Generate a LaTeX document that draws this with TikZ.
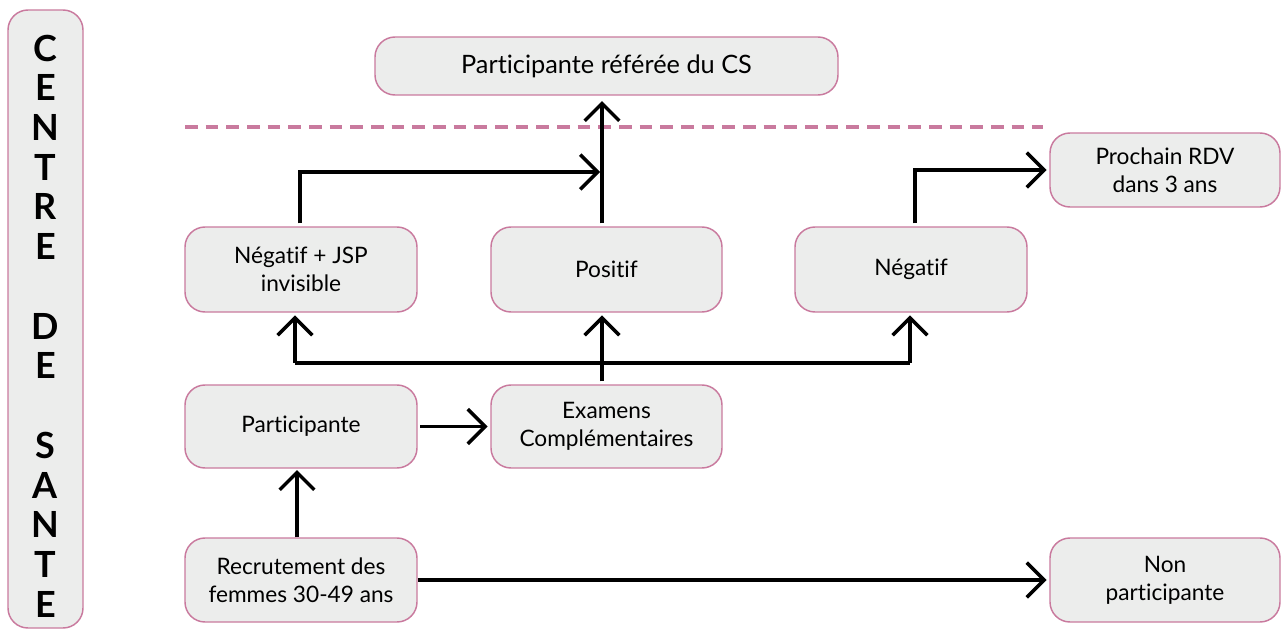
\documentclass[tikz,border=0pt]{standalone}
\usepackage{fontspec}
\setmainfont{Lato}[Ligatures={NoCommon,NoRare}]
\usetikzlibrary{arrows.meta,calc}
\definecolor{boxfill}{HTML}{ECEDEC}
\definecolor{boxline}{HTML}{C97A9E}
\begin{document}
\begin{tikzpicture}[x=0.75pt,y=-0.75pt,
  box/.style={draw=boxline,line width=1.1pt,fill=boxfill,rounded corners=15pt,
    align=center,inner sep=0pt,font=\fontsize{17}{21}\selectfont},
  conn/.style={line width=2.6pt,black},
  arr/.style={conn,-{Straight Barb[length=13pt,width=26pt,line width=2.6pt]}},
]
\useasboundingbox (0,0) rectangle (1282,635);
% left vertical box
\node[box,minimum width=75*0.75pt,minimum height=618*0.75pt] (vert) at (45.5,319) {};
\node[align=center,inner sep=0pt,font=\fontsize{27}{29.8}\selectfont\bfseries] (vtext) at (45.5,326)
  {C\\E\\N\\T\\R\\E\\\mbox{}\\D\\E\\\mbox{}\\S\\A\\N\\T\\E};
% boxes
\node[box,minimum width=463*0.75pt,minimum height=58*0.75pt,font=\fontsize{19}{22}\selectfont] (top) at (606.5,66) {Participante référée du CS};
\node[box,minimum width=232*0.75pt,minimum height=85*0.75pt] (neg1) at (301,269.5) {Négatif + JSP\\invisible};
\node[box,minimum width=231*0.75pt,minimum height=85*0.75pt] (pos) at (606.5,269.5) {Positif};
\node[box,minimum width=232*0.75pt,minimum height=85*0.75pt] (neg2) at (911,269.5) {Négatif};
\node[box,minimum width=230*0.75pt,minimum height=74*0.75pt] (proch) at (1165,170) {Prochain RDV\\dans 3 ans};
\node[box,minimum width=232*0.75pt,minimum height=83*0.75pt] (part) at (301,426.5) {Participante};
\node[box,minimum width=231*0.75pt,minimum height=83*0.75pt] (exam) at (606.5,426.5) {Examens\\Complémentaires};
\node[box,minimum width=232*0.75pt,minimum height=84*0.75pt] (recr) at (301,580) {Recrutement des\\femmes 30-49 ans};
\node[box,minimum width=230*0.75pt,minimum height=84*0.75pt] (nonp) at (1165,580) {Non\\participante};
% dashed separator
\coordinate (dl) at (185,127);
\coordinate (dr) at (1043,127);
\draw[boxline,line width=2.4pt,dash pattern=on 9.5pt off 6pt] (dl) -- (dr);
% connectors
\coordinate (hub) at (602,363);
\coordinate (hubL) at (295,363);
\coordinate (hubR) at (910,363);
\coordinate (mid) at (600,172);
\draw[arr,shorten >=1pt] ($(recr.north)+(-4,0)$) -- ($(part.south)+(-4,0)$);
\draw[arr,shorten <=2pt,shorten >=2pt] (part.east) -- (exam.west);
\draw[arr,shorten >=2pt] (recr.east) -- (nonp.west);
\draw[conn] ($(exam.north)+(-4.5,-3)$) -- (hub);
\draw[conn] (hubL) -- (hubR);
\draw[arr,shorten >=2pt] (hubL) -- (neg1.south -| hubL);
\draw[arr,shorten >=2pt] (hub) -- (pos.south -| hub);
\draw[arr,shorten >=2pt] (hubR) -- (neg2.south -| hubR);
\draw[arr] ($(neg1.north)+(-1,-3)$) |- (mid);
\draw[arr,shorten >=4pt] ($(pos.north)+(-4.5,-3)$) -- (top.south -| hub);
\draw[arr,shorten >=2pt] ($(neg2.north)+(4,-3)$) |- (proch.west);
\end{tikzpicture}
\end{document}
